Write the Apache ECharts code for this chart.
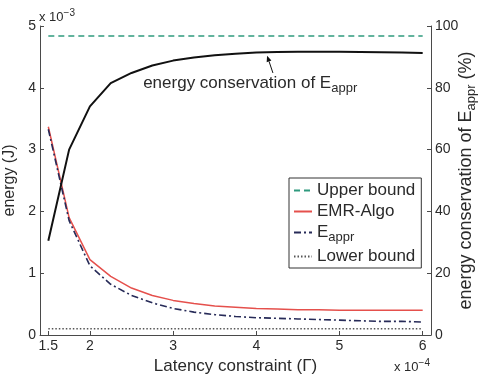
<!DOCTYPE html>
<html><head><meta charset="utf-8">
<script src="https://cdn.jsdelivr.net/npm/echarts@6/dist/echarts.min.js"></script>
<style>html,body{margin:0;padding:0;background:#fff}#c{width:482px;height:378px}</style>
</head><body><div id="c"></div>
<script>
// Latency constraint (x 10^-4)
const latency = [1.5,1.75,2,2.25,2.5,2.75,3,3.25,3.5,3.75,4,4.25,4.5,4.75,5,5.25,5.5,5.75,6];
// energy (x 10^-3 J)
const upperBound = [4.84,4.84,4.84,4.84,4.84,4.84,4.84,4.84,4.84,4.84,4.84,4.84,4.84,4.84,4.84,4.84,4.84,4.84,4.84];
const emrAlgo    = [3.37,1.90,1.22,0.95,0.76,0.64,0.56,0.51,0.47,0.45,0.43,0.42,0.41,0.41,0.40,0.40,0.40,0.40,0.40];
const eAppr      = [3.33,1.85,1.12,0.82,0.64,0.52,0.43,0.37,0.33,0.30,0.28,0.27,0.26,0.25,0.24,0.23,0.22,0.22,0.21];
const lowerBound = [0.10,0.10,0.10,0.10,0.10,0.10,0.10,0.10,0.10,0.10,0.10,0.10,0.10,0.10,0.10,0.10,0.10,0.10,0.10];
// energy conservation of E_appr (%)
const conservation = [30.5,60.0,74.0,81.5,84.8,87.2,88.8,89.8,90.5,91.0,91.4,91.6,91.7,91.7,91.7,91.6,91.5,91.4,91.3];
const xTicks = [1.5,2,3,4,5,6];
const seriesNames = ['Upper bound','EMR-Algo','E_appr','Lower bound'];

const FONT = '"Liberation Sans", Arial, Helvetica, sans-serif';
const TXT = '#2a2a2a';
const AX = '#4a4a4a';
function pairs(xs, ys){ return xs.map((x,i)=>[x, ys[i]]); }

const chart = echarts.init(document.getElementById('c'), null, {renderer:'canvas'});
const option = {
  animation:false,
  backgroundColor:'#fff',
  textStyle:{fontFamily:FONT},
  grid:{left:40, right:51, top:26, bottom:43, containLabel:false, outerBoundsMode:'none'},
  xAxis:{
    type:'value', min:1.4, max:6.1,
    axisLine:{show:true, onZero:false, lineStyle:{color:AX, width:1}},
    axisTick:{show:true, inside:true, length:4, customValues:xTicks, lineStyle:{color:AX}},
    axisLabel:{customValues:xTicks, color:TXT, fontSize:14, margin:4, fontFamily:FONT},
    splitLine:{show:false},
    name:'Latency constraint (Γ)', nameLocation:'middle', nameGap:17,
    nameTextStyle:{fontSize:17, color:TXT, fontFamily:FONT}
  },
  yAxis:[{
    type:'value', min:0, max:5, interval:1, position:'left',
    axisLine:{show:true, lineStyle:{color:AX, width:1}},
    axisTick:{show:true, inside:true, length:4, lineStyle:{color:AX}},
    axisLabel:{color:TXT, fontSize:14, margin:4, fontFamily:FONT},
    splitLine:{show:false},
    name:'energy (J)', nameLocation:'middle', nameGap:19, nameRotate:90,
    nameTextStyle:{fontSize:16, color:TXT, fontFamily:FONT}
  },{
    type:'value', min:0, max:100, interval:20, position:'right',
    axisLine:{show:true, lineStyle:{color:AX, width:1}},
    axisTick:{show:true, inside:true, length:4, lineStyle:{color:AX}},
    axisLabel:{color:TXT, fontSize:14, margin:4, fontFamily:FONT},
    splitLine:{show:false}
  }],
  legend:{
    orient:'vertical', left:289, top:178,
    data:seriesNames,
    borderColor:'#333', borderWidth:1, backgroundColor:'#fff',
    padding:[4,6,3,4], itemGap:4, itemWidth:18, itemHeight:10,
    itemStyle:{opacity:0},
    formatter:function(n){ return n==='E_appr' ? '{m|E}{s|appr}' : '{m|'+n+'}'; },
    textStyle:{color:TXT, fontFamily:FONT, fontSize:17, rich:{
      m:{fontSize:17, color:TXT, fontFamily:FONT},
      s:{fontSize:13, color:TXT, fontFamily:FONT, padding:[10,0,0,0]}
    }}
  },
  series:[
    {name:'Upper bound', type:'line', data:pairs(latency, upperBound), symbol:'none', color:'#2f9a7e',
     lineStyle:{color:'#2f9a7e', width:1.5, type:[6,4]}},
    {name:'EMR-Algo', type:'line', data:pairs(latency, emrAlgo), symbol:'none', color:'#e5504c',
     lineStyle:{color:'#e5504c', width:1.5}},
    {name:'E_appr', type:'line', data:pairs(latency, eAppr), symbol:'none', color:'#272b58',
     lineStyle:{color:'#272b58', width:1.6, type:[7,3,2,3]}},
    {name:'Lower bound', type:'line', data:pairs(latency, lowerBound), symbol:'none', color:'#555',
     lineStyle:{color:'#555', width:1.4, type:[1.5,2]}},
    {name:'energy conservation', type:'line', yAxisIndex:1, data:pairs(latency, conservation), symbol:'none', color:'#111',
     lineStyle:{color:'#111', width:2}}
  ]
};
chart.setOption(option);

// annotations anchored in data coordinates
const tipP = chart.convertToPixel({xAxisIndex:0, yAxisIndex:1}, [4.13, 90.4]);
const tailP = chart.convertToPixel({xAxisIndex:0, yAxisIndex:1}, [4.2, 84.8]);
const txtP = chart.convertToPixel({xAxisIndex:0, yAxisIndex:1}, [2.64, 81.5]);
const ang = Math.atan2(tipP[1]-tailP[1], tipP[0]-tailP[0]);
const hl = 6, hw = 2.5;
const bx = tipP[0]-hl*Math.cos(ang), by = tipP[1]-hl*Math.sin(ang);
const nx = -Math.sin(ang), ny = Math.cos(ang);
const topLeftP = chart.convertToPixel({xAxisIndex:0, yAxisIndex:0}, [1.4, 5]);
const botRightP = chart.convertToPixel({xAxisIndex:0, yAxisIndex:0}, [6.1, 0]);
const midY = (topLeftP[1] + botRightP[1]) / 2;

chart.setOption({graphic:[
  {type:'line', shape:{x1:tailP[0], y1:tailP[1], x2:bx, y2:by}, style:{stroke:'#111', lineWidth:1}},
  {type:'polygon', shape:{points:[[tipP[0],tipP[1]],[bx+nx*hw,by+ny*hw],[bx-nx*hw,by-ny*hw]]}, style:{fill:'#111'}},
  {type:'text', x:txtP[0], y:txtP[1], style:{text:'{m|energy conservation of E}{s|appr}', verticalAlign:'middle', align:'left',
    rich:{m:{fontSize:17, fill:TXT, fontFamily:FONT}, s:{fontSize:13, fill:TXT, fontFamily:FONT, padding:[10,0,0,0]}}}},
  {type:'text', x:topLeftP[0]-1, y:topLeftP[1], style:{text:'{m|x 10}{s|−3}', verticalAlign:'bottom', align:'left',
    rich:{m:{fontSize:13, fill:TXT, fontFamily:FONT}, s:{fontSize:10, fill:TXT, fontFamily:FONT, padding:[0,0,8,0]}}}},
  {type:'text', x:botRightP[0]-37, y:botRightP[1]+41, style:{text:'{m|x 10}{s|−4}', verticalAlign:'bottom', align:'left',
    rich:{m:{fontSize:13, fill:TXT, fontFamily:FONT}, s:{fontSize:10, fill:TXT, fontFamily:FONT, padding:[0,0,8,0]}}}},
  {type:'text', x:botRightP[0]+35, y:midY, rotation:Math.PI/2,
    style:{text:'{m|energy conservation of E}{s|appr}{m| (%)}', verticalAlign:'middle', align:'center',
    rich:{m:{fontSize:18, fill:TXT, fontFamily:FONT}, s:{fontSize:13, fill:TXT, fontFamily:FONT, padding:[10,0,0,0]}}}}
]});
</script>
</body></html>
